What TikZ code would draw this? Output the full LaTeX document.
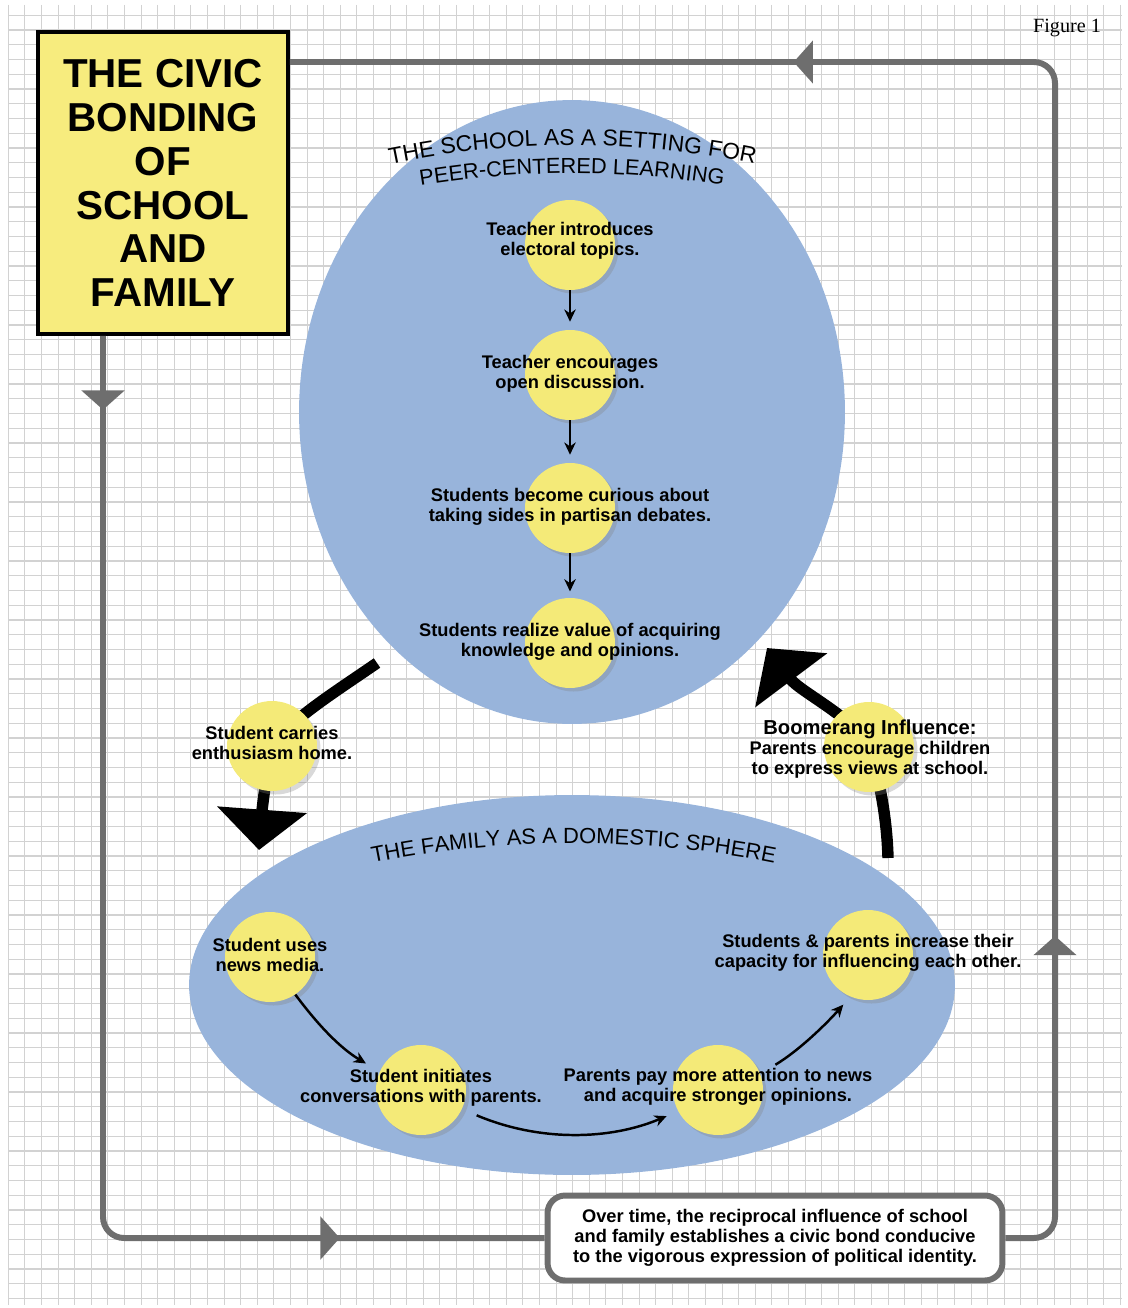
\documentclass[tikz,border=0pt]{standalone}
\usepackage{fontspec}
\setmainfont{Liberation Sans}
\newfontfamily\figfont{Liberation Serif}
\usetikzlibrary{shapes.geometric, arrows.meta, decorations.text, decorations.markings, shadows, calc}
\definecolor{gridgray}{RGB}{210,210,210}
\definecolor{sphereblue}{RGB}{152,180,219}
\definecolor{stageyellow}{RGB}{244,234,120}
\definecolor{banneryellow}{RGB}{247,236,126}
\definecolor{loopgray}{RGB}{110,110,110}

\begin{document}
\begin{tikzpicture}[
        x=0.02cm, y=-0.02cm,
        sphere/.style={ellipse, fill=sphereblue, inner sep=0pt},
        stage/.style={circle, fill=stageyellow, minimum size=1.8cm, inner sep=0pt, drop shadow={shadow xshift=2pt, shadow yshift=-2pt, opacity=0.3}},
        caption/.style={align=center, inner sep=0pt, font=\fontsize{10.4}{11.4}\selectfont\bfseries},
        banner/.style={rectangle, draw=black, line width=2.3pt, fill=banneryellow, minimum width=5cm, minimum height=6.04cm, align=center, font=\fontsize{23}{25}\selectfont\bfseries},
        summary/.style={rectangle, rounded corners=10pt, draw=loopgray, line width=3.4pt, fill=white, minimum width=9.1cm, minimum height=1.7cm, align=center, font=\fontsize{10.4}{11.4}\selectfont\bfseries},
        flow/.style={line width=1.4pt, -{Stealth[length=7pt, width=6.5pt]}},
        bigflow/.style={line width=6.5pt, -{Triangle[length=23pt, width=50pt]}},
        loopflow/.style={draw=loopgray, line width=3.4pt, rounded corners=12pt, postaction={decorate}},
        loophead/.tip={Triangle[length=11pt, width=24pt]}
    ]
    \useasboundingbox (0,0) rectangle (1127,1308);

    % Graph paper
    \foreach \gx in {8.3,24.9,...,1121}
        \draw[gridgray, line width=0.6pt] (\gx,5) -- (\gx,1305);
    \foreach \gy in {15.25,30,...,1300}
        \draw[gridgray, line width=0.6pt] (8,\gy) -- (1122,\gy);

    % The two spheres
    \node[sphere, minimum width=10.92cm, minimum height=12.48cm] (school) at (572,412) {};
    \node[sphere, minimum width=15.32cm, minimum height=7.6cm] (family) at (572,985) {};

    \path[decorate, decoration={text along path, text align=center, text={|\fontsize{13}{15}\selectfont|THE SCHOOL AS A SETTING FOR}}]
        (386,165) .. controls (508,139) and (636,139) .. (759,165);
    \path[decorate, decoration={text along path, text align=center, text={|\fontsize{12.4}{15}\selectfont|PEER-CENTERED LEARNING}}]
        (418,186) .. controls (520,169) and (624,169) .. (726,186);
    \path[decorate, decoration={text along path, text align=center, text={|\fontsize{12.5}{14}\selectfont|THE FAMILY AS A DOMESTIC SPHERE}}]
        (372,863) .. controls (500,837) and (645,837) .. (775,863);

    % Title and summary
    \node[banner] (title) at (163,183) {THE CIVIC\\BONDING\\OF\\SCHOOL\\AND\\FAMILY};
    \node[summary] (note) at (775,1238) {Over time, the reciprocal influence of school\\and family establishes a civic bond conducive\\to the vigorous expression of political identity.};
    \node[font=\figfont\fontsize{11.5}{13}\selectfont] (figlabel) at (1067,28) {Figure 1};

    % Outer loop
    \coordinate (leftrail) at (103,0);
    \coordinate (rightrail) at (1055,0);
    \coordinate (titlein) at ($(title.north east)+(0,32)$);
    \draw[loopflow, decoration={markings,
            mark=at position 42pt with {\arrow{loophead}},
            mark=at position 643pt with {\arrow{loophead}}}]
        (title.south -| leftrail) |- (note.west);
    \draw[loopflow, decoration={markings,
            mark=at position 195pt with {\arrow{loophead}},
            mark=at position 836pt with {\arrow{loophead}}}]
        (note.east) -| (titlein -| rightrail) -- (titlein);

    % Big arrows between the spheres
    \coordinate (homefrom) at (377,663);
    \coordinate (carrymid) at (272,746);
    \coordinate (hometo) at (259,850);
    \coordinate (boomfrom) at (888,858);
    \coordinate (boommid) at (869,747);
    \coordinate (boomto) at (767,648);
    \draw[bigflow] (homefrom) .. controls (335,692) and (290,720) .. (carrymid)
        .. controls (266,775) and (262,810) .. (hometo);
    \draw[bigflow] (boomfrom) .. controls (887,820) and (880,780) .. (boommid)
        .. controls (855,718) and (800,692) .. (boomto);

    % School steps
    \node[stage] (intro) at (570,245) {};
    \node[stage] (encourage) at (570,375) {};
    \node[stage] (curious) at (570,508) {};
    \node[stage] (realize) at (570,643) {};
    \node[caption] (introtext) at (570,241) {Teacher introduces\\electoral topics.};
    \node[caption] (encouragetext) at (570,374) {Teacher encourages\\open discussion.};
    \node[caption] (curioustext) at (570,507) {Students become curious about\\taking sides in partisan debates.};
    \node[caption] (realizetext) at (570,642) {Students realize value of acquiring\\knowledge and opinions.};

    \draw[flow, shorten >=4.5pt] (intro.south) -- (encourage.north);
    \draw[flow, shorten >=4.5pt] (encourage.south) -- (curious.north);
    \draw[flow, shorten >=3.5pt] (curious.south) -- (realize.north);

    % Between the spheres
    \node[stage] (carry) at (carrymid) {};
    \node[caption] (carrytext) at (272,743) {Student carries\\enthusiasm home.};
    \node[stage] (boom) at (boommid) {};
    \node[caption] (boomtext) at (870,749) {{\fontsize{11.5}{11.4}\selectfont Boomerang Influence:}\\Parents encourage children\\to express views at school.};

    % Family steps
    \node[stage] (uses) at (270,957) {};
    \node[stage] (initiates) at (421,1090) {};
    \node[stage] (parents) at (718,1090) {};
    \node[stage] (increase) at (868,955) {};
    \node[caption] (usestext) at (270,955) {Student uses\\news media.};
    \node[caption] (initiatestext) at (421,1088) {Student initiates\\conversations with parents.};
    \node[caption] (parentstext) at (718,1087) {Parents pay more attention to news\\and acquire stronger opinions.};
    \node[caption] (increasetext) at (868,953) {Students \& parents increase their\\capacity for influencing each other.};

    \draw[flow, shorten >=9pt] (uses.-56) .. controls (318,1025) and (340,1048) .. (initiates.156);
    \draw[flow, shorten <=9pt, shorten >=7pt] (initiates.-25) .. controls (540,1142) and (610,1140) .. (parents.208);
    \draw[flow, shorten <=10pt, shorten >=6pt] (parents.21) .. controls (800,1050) and (828,1022) .. (increase.247);

\end{tikzpicture}
\end{document}
